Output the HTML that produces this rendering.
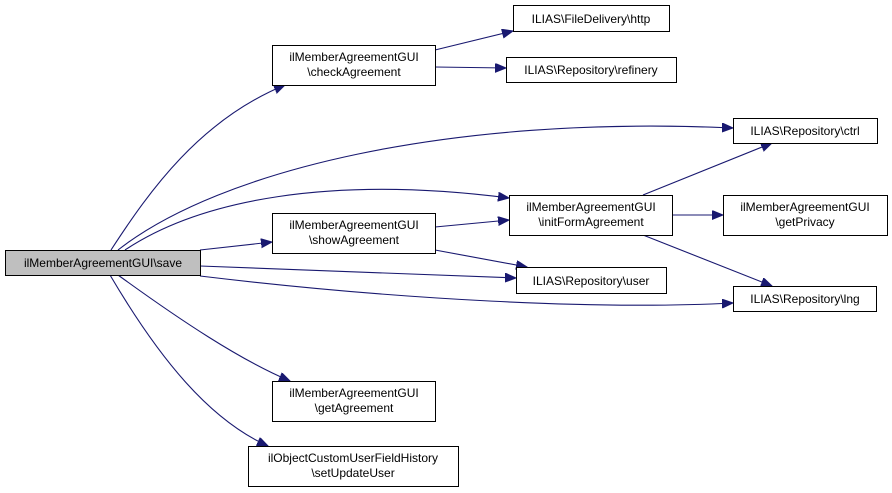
<!DOCTYPE html>
<html><head><meta charset="utf-8"><style>
html,body{margin:0;padding:0;background:#fff;}
svg{display:block;}
text{font-family:"Liberation Sans",sans-serif;font-size:12px;fill:#000;}
</style></head><body>
<svg width="892" height="493" viewBox="0 0 892 493" xmlns="http://www.w3.org/2000/svg">
<defs>
<marker id="a" markerUnits="userSpaceOnUse" markerWidth="12" markerHeight="10" refX="11" refY="4.5" orient="auto">
<path d="M0,0 L11,4.5 L0,9 Z" fill="#191970" stroke="#191970"/>
</marker>
</defs>
<g fill="none" stroke="#191970" stroke-width="1.1" marker-end="url(#a)">
<path d="M111,250 C150,190 200,120 285,85"/>
<path d="M118,250 C220,170 450,115 733,128"/>
<path d="M125,250 C200,200 330,175 509,198"/>
<path d="M200,250 L272,242"/>
<path d="M200,266 L516,278"/>
<path d="M200,276 C400,300 600,310 733,303"/>
<path d="M118,275 C180,320 240,360 290,381"/>
<path d="M110,275 C160,360 210,420 268,446"/>
<path d="M435,50 L513,31"/>
<path d="M435,67 L506,68"/>
<path d="M435,227 L509,220"/>
<path d="M435,250 L527,267"/>
<path d="M643,195 L772,143"/>
<path d="M672,215 L723,215"/>
<path d="M643,235 L772,286"/>
</g>
<g stroke="#000" stroke-width="1" fill="#fff">
<rect x="5.5" y="250.5" width="195" height="25" fill="#bfbfbf"/>
<rect x="272.5" y="45.5" width="163" height="40"/>
<rect x="272.5" y="213.5" width="163" height="40"/>
<rect x="272.5" y="381.5" width="163" height="40"/>
<rect x="248.5" y="446.5" width="210" height="40"/>
<rect x="513.5" y="5.5" width="156" height="26"/>
<rect x="506.5" y="57.5" width="170" height="25"/>
<rect x="733.5" y="118.5" width="144" height="25"/>
<rect x="509.5" y="195.5" width="163" height="40"/>
<rect x="723.5" y="195.5" width="164" height="40"/>
<rect x="516.5" y="267.5" width="150" height="26"/>
<rect x="733.5" y="286.5" width="143" height="25"/>
</g>
<g text-anchor="middle">
<text x="103" y="267">ilMemberAgreementGUI\save</text>
<text x="354" y="61">ilMemberAgreementGUI</text><text x="354" y="76">\checkAgreement</text>
<text x="354" y="229">ilMemberAgreementGUI</text><text x="354" y="244">\showAgreement</text>
<text x="354" y="397">ilMemberAgreementGUI</text><text x="354" y="412">\getAgreement</text>
<text x="353" y="462">ilObjectCustomUserFieldHistory</text><text x="353" y="477">\setUpdateUser</text>
<text x="591" y="23">ILIAS\FileDelivery\http</text>
<text x="591" y="74">ILIAS\Repository\refinery</text>
<text x="805" y="135">ILIAS\Repository\ctrl</text>
<text x="591" y="211">ilMemberAgreementGUI</text><text x="591" y="226">\initFormAgreement</text>
<text x="805" y="211">ilMemberAgreementGUI</text><text x="805" y="226">\getPrivacy</text>
<text x="591" y="285">ILIAS\Repository\user</text>
<text x="805" y="303">ILIAS\Repository\lng</text>
</g>
</svg>
</body></html>
